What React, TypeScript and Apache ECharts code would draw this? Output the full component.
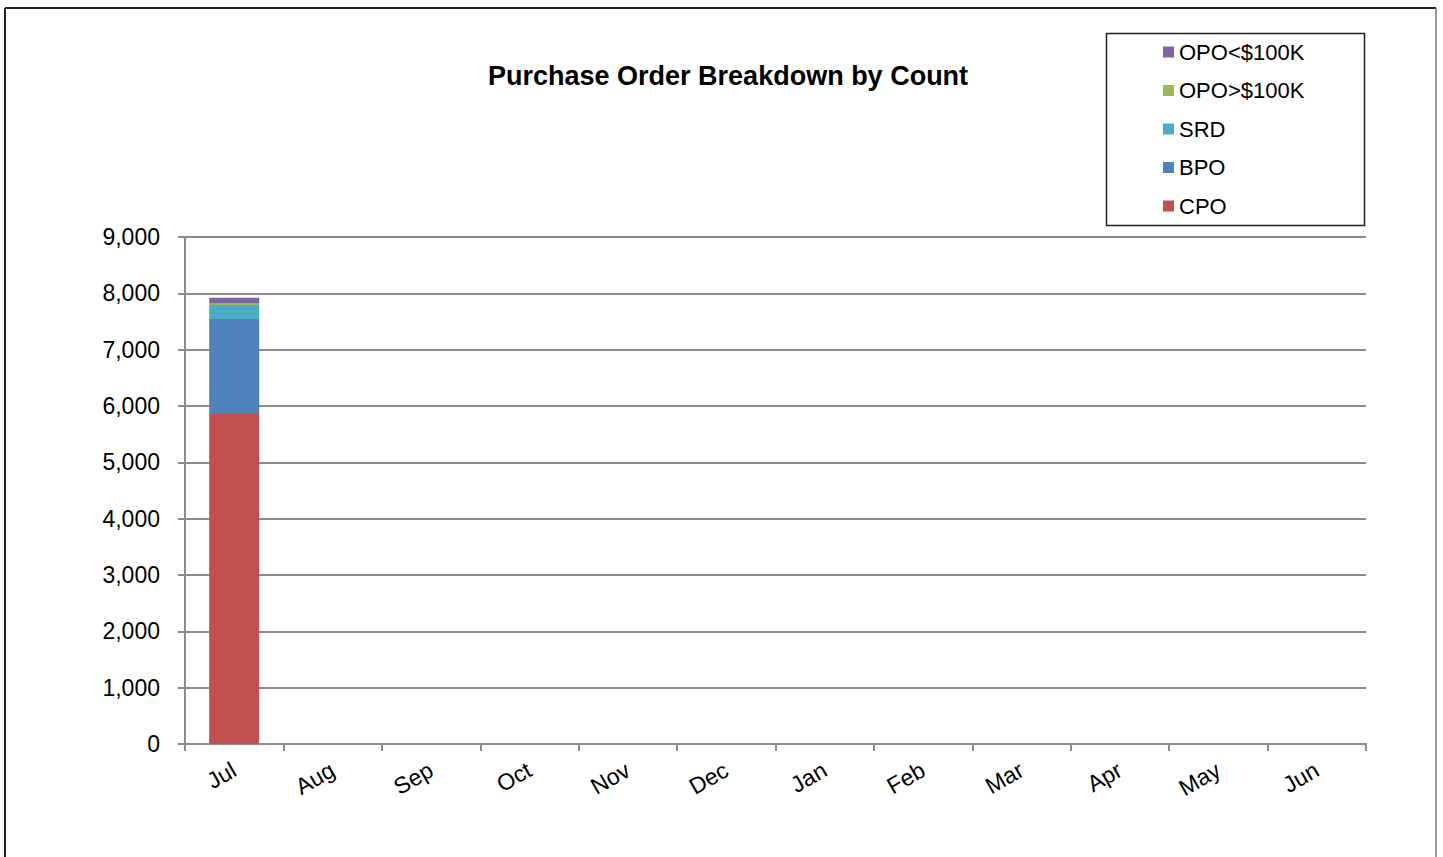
import React, { useEffect, useRef } from "react";
import * as echarts from "echarts";

const months = ["Jul", "Aug", "Sep", "Oct", "Nov", "Dec", "Jan", "Feb", "Mar", "Apr", "May", "Jun"];
const cpo = [5860, null, null, null, null, null, null, null, null, null, null, null];
const bpo = [1685, null, null, null, null, null, null, null, null, null, null, null];
const srd = [250, null, null, null, null, null, null, null, null, null, null, null];
const opoOver = [25, null, null, null, null, null, null, null, null, null, null, null];
const opoUnder = [100, null, null, null, null, null, null, null, null, null, null, null];
const seriesNames = ["CPO", "BPO", "SRD", "OPO>$100K", "OPO<$100K"];
const seriesColors = ["#C0504D", "#4F81BD", "#4BACC6", "#9BBB59", "#8064A2"];

const FONT = "Liberation Sans, Arial, sans-serif";

export default function App() {
  const ref = useRef<HTMLDivElement>(null);
  useEffect(() => {
    if (!ref.current) return;
    const chart = echarts.init(ref.current, null, { renderer: "svg" });
    const data = [cpo, bpo, srd, opoOver, opoUnder];
    chart.setOption({
      animation: false,
      backgroundColor: "#ffffff",
      textStyle: { fontFamily: FONT },
      title: {
        text: "Purchase Order Breakdown by Count",
        left: 483,
        top: 57,
        textStyle: { fontSize: 27, fontWeight: "bold", color: "#000", fontFamily: FONT },
      },
      legend: {
        orient: "vertical",
        left: 1158,
        top: 36,
        padding: 5,
        data: [...seriesNames].reverse(),
        itemWidth: 11,
        itemHeight: 11,
        itemGap: 16.5,
        icon: "rect",
        textStyle: { fontSize: 22, color: "#000", lineHeight: 22, padding: [0, 0, 0, 0], fontFamily: FONT },
      },
      graphic: [
        { type: "rect", shape: { x: 1106.5, y: 33.5, width: 258, height: 192 }, style: { fill: "none", stroke: "#222", lineWidth: 1.5 }, z: 0 },
        { type: "line", shape: { x1: 5, y1: 8, x2: 1436, y2: 8 }, style: { stroke: "#222", lineWidth: 2 } },
        { type: "line", shape: { x1: 5, y1: 8, x2: 5, y2: 857 }, style: { stroke: "#222", lineWidth: 2 } },
        { type: "line", shape: { x1: 1436, y1: 8, x2: 1436, y2: 857 }, style: { stroke: "#777", lineWidth: 1.5 } },
      ],
      grid: { left: 185, right: 77, top: 237, bottom: 113, containLabel: false },
      xAxis: {
        type: "category",
        data: months,
        axisLine: { lineStyle: { color: "#8c8c8c", width: 2 } },
        axisTick: { show: true, alignWithLabel: false, length: 7, lineStyle: { color: "#8c8c8c", width: 2 } },
        axisLabel: { rotate: 30, fontSize: 23, color: "#000", margin: 24, fontFamily: FONT },
      },
      yAxis: {
        type: "value",
        min: 0,
        max: 9000,
        interval: 1000,
        axisLine: { show: true, lineStyle: { color: "#8c8c8c", width: 2 } },
        axisTick: { show: true, length: 7, lineStyle: { color: "#8c8c8c", width: 2 } },
        splitLine: { lineStyle: { color: "#8c8c8c", width: 2 } },
        axisLabel: {
          fontSize: 23,
          color: "#000",
          margin: 25,
          fontFamily: FONT,
          formatter: (v: number) => v.toLocaleString("en-US"),
        },
      },
      series: seriesNames.map((name, i) => ({
        name,
        type: "bar",
        stack: "total",
        barWidth: 50,
        itemStyle: { color: seriesColors[i] },
        data: data[i],
      })),
    });
    return () => chart.dispose();
  }, []);
  return <div ref={ref} style={{ position: "fixed", left: 0, top: 0, width: 1443, height: 857 }} />;
}
